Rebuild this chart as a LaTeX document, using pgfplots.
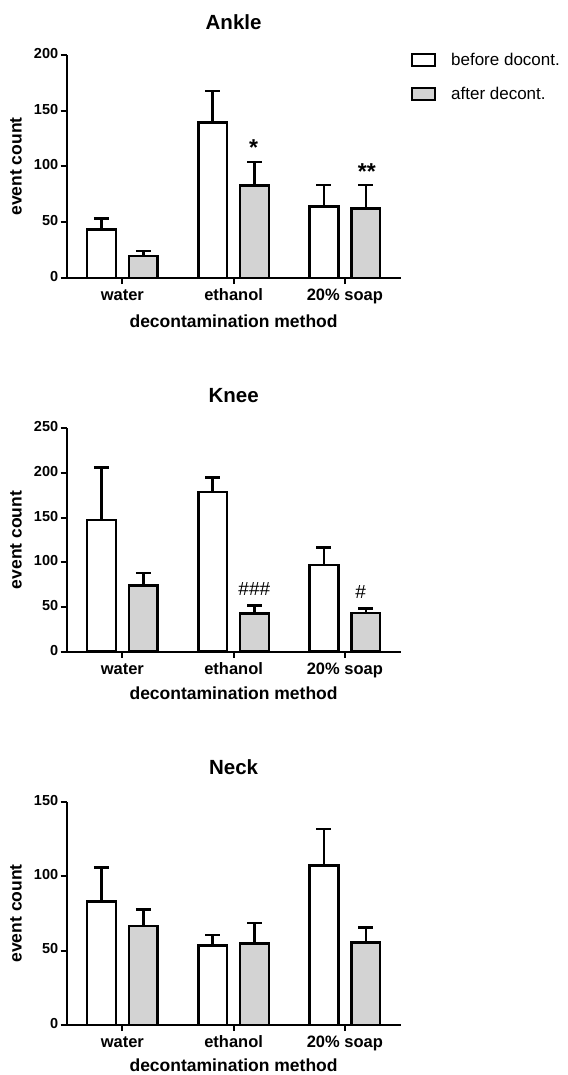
\documentclass[border=0pt]{standalone}
\usepackage{fontspec}
\setmainfont{Liberation Sans}
\usepackage{pgfplots}
\usepackage{pgfplotstable}
\pgfplotsset{compat=1.18}
\definecolor{barfill}{RGB}{211,211,211}

\pgfplotstableread{
x b be a ae
0 43.3 10.2 19.7 4.3
1 139.3 28.4 82.8 21.2
2 64.3 19.1 62.5 20.9
}\ankle
\pgfplotstableread{
x b be a ae
0 147.4 58.5 74.3 13.7
1 178.7 16.5 42.5 9.0
2 97.0 19.4 43.3 5.2
}\knee
\pgfplotstableread{
x b be a ae
0 82.8 23.1 66.5 11.2
1 53.5 6.8 54.9 13.6
2 107.0 24.7 55.3 10.1
}\neck

\pgfplotsset{
  panel/.style={
    scale only axis,
    xmin=-0.5, xmax=2.5, ymin=0,
    axis x line*=bottom, axis y line*=left,
    axis line style={line width=2pt, -},
    xtick={0,1,2}, xticklabels={water,ethanol,20\% soap},
    tick align=outside, major tick length=6pt,
    tick style={line width=2pt, black},
    /pgf/number format/assume math mode=true,
    typeset ticklabels with strut,
    yticklabel style={font=\fontsize{14.5}{17}\selectfont\bfseries, xshift=1pt},
    xticklabel style={font=\fontsize{16.5}{19}\selectfont\bfseries},
    xlabel={decontamination method}, ylabel={event count},
    label style={font=\fontsize{17.5}{21}\selectfont\bfseries},
    title style={font=\fontsize{20.5}{24}\selectfont\bfseries, anchor=center},
    clip=false,
  },
  befbar/.style={ybar, bar width=0.258, bar shift=0pt, draw=black, line width=2.5pt, fill=white,
    error bars/.cd, y dir=plus, y explicit,
    error bar style={line width=2.5pt, black},
    error mark options={rotate=90, mark size=7.5pt, line width=2.5pt, black}},
  aftbar/.style={ybar, bar width=0.258, bar shift=0pt, draw=black, line width=2.5pt, fill=barfill,
    error bars/.cd, y dir=plus, y explicit,
    error bar style={line width=2.5pt, black},
    error mark options={rotate=90, mark size=7.5pt, line width=2.5pt, black}},
}

\begin{document}
\begin{tikzpicture}[x=1pt,y=1pt]
\path[use as bounding box] (0,0) rectangle (567,-1075);

% Ankle
\begin{axis}[panel, at={(66.7pt,-278pt)}, anchor=south west,
  width=333.8pt, height=223pt, ymax=200, ytick={0,50,100,150,200},
  title={Ankle}, title style={at={(0.5,1.12)}},
  xlabel style={at={(axis description cs:0.5,-0.193)}, anchor=center},
  ylabel style={at={(axis description cs:-0.152,0.5)}, anchor=center, rotate=0},
  legend style={at={(1.030,1.018)}, anchor=north west, draw=none, fill=none,
    font=\fontsize{17}{20}\selectfont, inner sep=0pt, row sep=16pt},
  legend cell align=left,
]
\addlegendimage{legend image code/.code={\draw[black, line width=2.5pt, fill=white] (0pt,-6pt) rectangle (23pt,6pt); \path (37pt,0pt);}}
\addlegendentry{before docont.}
\addlegendimage{legend image code/.code={\draw[black, line width=2.5pt, fill=barfill] (0pt,-6pt) rectangle (23pt,6pt); \path (37pt,0pt);}}
\addlegendentry{after decont.}
\addplot[forget plot, befbar] table[x expr=\thisrow{x}-0.188, y=b, y error=be] {\ankle};
\addplot[forget plot, aftbar] table[x expr=\thisrow{x}+0.188, y=a, y error=ae] {\ankle};
\node[font=\fontsize{23}{24}\selectfont\bfseries, anchor=base] at (axis cs:1.18,110) {*};
\node[font=\fontsize{23}{24}\selectfont\bfseries, anchor=base] at (axis cs:2.197,88.2) {**};
\end{axis}

% Knee
\begin{axis}[panel, at={(66.7pt,-651.7pt)}, anchor=south west,
  width=333.8pt, height=223.4pt, ymax=250, ytick={0,50,100,150,200,250},
  title={Knee}, title style={at={(0.5,1.122)}},
  xlabel style={at={(axis description cs:0.5,-0.185)}, anchor=center},
  ylabel style={at={(axis description cs:-0.152,0.5)}, anchor=center, rotate=0},
]
\addplot[befbar] table[x expr=\thisrow{x}-0.188, y=b, y error=be] {\knee};
\addplot[aftbar] table[x expr=\thisrow{x}+0.188, y=a, y error=ae] {\knee};
\node[font=\fontsize{19}{20}\selectfont, anchor=base] at (axis cs:1.186,63) {\#\#\#};
\node[font=\fontsize{19}{20}\selectfont, anchor=base] at (axis cs:2.141,59) {\#};
\end{axis}

% Neck
\begin{axis}[panel, at={(66.7pt,-1025pt)}, anchor=south west,
  width=333.8pt, height=223.3pt, ymax=150, ytick={0,50,100,150},
  title={Neck}, title style={at={(0.5,1.128)}},
  xlabel style={at={(axis description cs:0.5,-0.179)}, anchor=center},
  ylabel style={at={(axis description cs:-0.152,0.5)}, anchor=center, rotate=0},
]
\addplot[befbar] table[x expr=\thisrow{x}-0.188, y=b, y error=be] {\neck};
\addplot[aftbar] table[x expr=\thisrow{x}+0.188, y=a, y error=ae] {\neck};
\end{axis}
\end{tikzpicture}
\end{document}
